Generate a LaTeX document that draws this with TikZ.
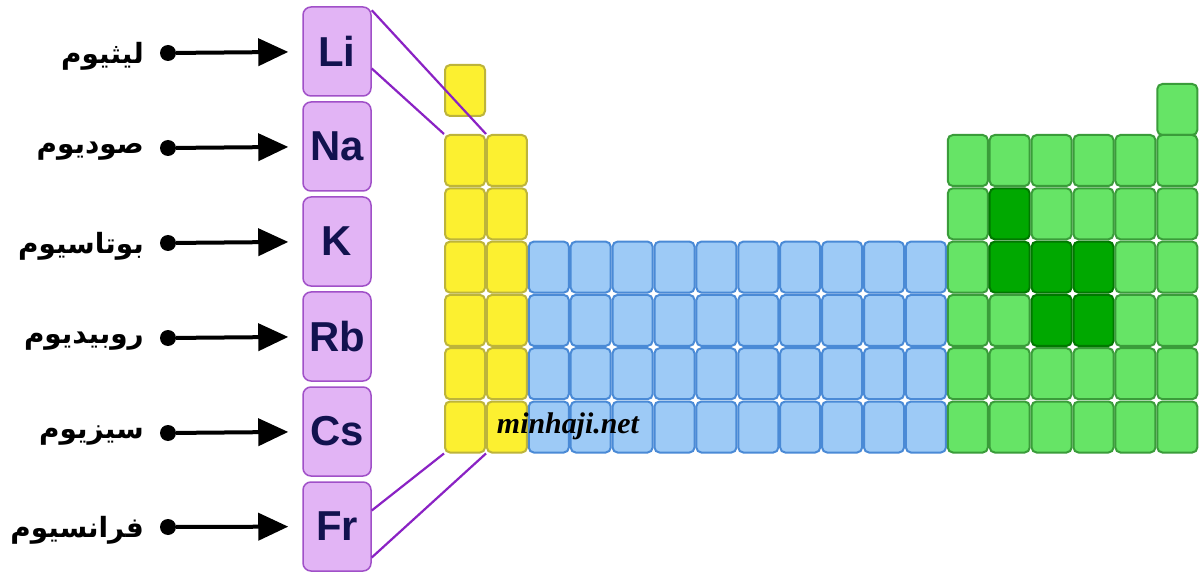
\documentclass[tikz,border=0pt]{standalone}
\usepackage{fontspec}
\setmainfont{Liberation Sans}
\newfontfamily\arabicfont[Script=Arabic]{DejaVu Sans}
\newfontfamily\wmfont{Liberation Serif}
\TeXXeTstate=1
\usetikzlibrary{arrows.meta,calc}
\definecolor{ylfill}{HTML}{FCF030}
\definecolor{yldraw}{HTML}{BDB43A}
\definecolor{blfill}{HTML}{9DCAF6}
\definecolor{bldraw}{HTML}{4A8AD6}
\definecolor{grfill}{HTML}{66E466}
\definecolor{grdraw}{HTML}{3A9C3A}
\definecolor{dgfill}{HTML}{00A800}
\definecolor{dgdraw}{HTML}{007800}
\definecolor{pufill}{HTML}{E2B4F5}
\definecolor{pudraw}{HTML}{A050C8}
\definecolor{putext}{HTML}{12124F}
\definecolor{puline}{HTML}{8A22C4}
\begin{document}
\begin{tikzpicture}[x=1bp,y=-1bp,
  cell/.style={draw, line width=2bp, rounded corners=5bp, minimum width=40bp, minimum height=51bp, inner sep=0pt, anchor=north west},
  yel/.style={cell, fill=ylfill, draw=yldraw},
  blu/.style={cell, fill=blfill, draw=bldraw},
  grn/.style={cell, fill=grfill, draw=grdraw},
  dgrn/.style={cell, fill=dgfill, draw=dgdraw},
  elbox/.style={draw=pudraw, fill=pufill, line width=1.5bp, rounded corners=8bp, minimum width=68bp, minimum height=89bp, inner sep=0pt, text=putext, font=\bfseries\fontsize{42}{42}\selectfont},
  namelbl/.style={anchor=east, inner sep=0pt, font=\arabicfont\bfseries\fontsize{28}{32}\selectfont},
  dot/.style={circle, fill=black, minimum size=16bp, inner sep=0pt},
  arr/.style={line width=4bp, -{Triangle[length=30bp,width=27bp]}, shorten >=14bp},
  link/.style={draw=puline, line width=2.2bp}]
\useasboundingbox (0,0) rectangle (1202,574);
\fill[white] (0,0) rectangle (1202,574);

% table cells
\node[yel] (c-1-1) at (444,64) {};
\node[grn] (c-1-18) at ({444+17*41.9},83) {};
\foreach \r in {2,...,7}{
  \foreach \c in {1,2}{
    \node[yel] (c-\r-\c) at ({444+(\c-1)*41.9},{134+(\r-2)*53.3}) {};
  }
}
\foreach \r in {4,...,7}{
  \foreach \c in {3,...,12}{
    \node[blu] (c-\r-\c) at ({444+(\c-1)*41.9},{134+(\r-2)*53.3}) {};
  }
}
\foreach \r in {2,...,7}{
  \foreach \c in {13,...,18}{
    \pgfmathtruncatemacro\dk{((\r==3)&&(\c==14))||((\r==4)&&(\c>=14)&&(\c<=16))||((\r==5)&&((\c==15)||(\c==16)))}
    \ifnum\dk=1
      \node[dgrn] (c-\r-\c) at ({444+(\c-1)*41.9},{134+(\r-2)*53.3}) {};
    \else
      \node[grn] (c-\r-\c) at ({444+(\c-1)*41.9},{134+(\r-2)*53.3}) {};
    \fi
  }
}

% element boxes
\node[elbox] (li) at (337,51.5) {Li};
\node[elbox] (na) at (337,146.5) {Na};
\node[elbox] (k)  at (337,241.5) {K};
\node[elbox] (rb) at (337,336.5) {Rb};
\node[elbox] (cs) at (337,431.5) {Cs};
\node[elbox] (fr) at (337,526.5) {Fr};

% links
\draw[link] ($(li.north east)+(0,4)$) -- (c-2-1.north east);
\draw[link] ($(li.east)+(0,17)$) -- (c-2-1.north west);
\draw[link] ($(fr.east)+(0,-16)$) -- (c-7-1.south west);
\draw[link] ($(fr.east)+(0,31)$) -- (c-7-1.south east);

% dots, arrows and names
\foreach \n/\e/\y/\t in {1/li/53/ليثيوم,2/na/148/صوديوم,3/k/243/بوتاسيوم,4/rb/338/روبيديوم,5/cs/433/سيزيوم,6/fr/527/فرانسيوم}{
  \node[dot] (d\n) at (168,\y) {};
  \draw[arr] (d\n) -- (\e);
  \node[namelbl] (n\n) at (144,\y+3) {\beginR\t\endR};
}

% watermark
\node[font=\wmfont\itshape\bfseries\fontsize{30}{30}\selectfont, inner sep=0pt] (wm) at (568,426) {minhaji.net};
\end{tikzpicture}
\end{document}
